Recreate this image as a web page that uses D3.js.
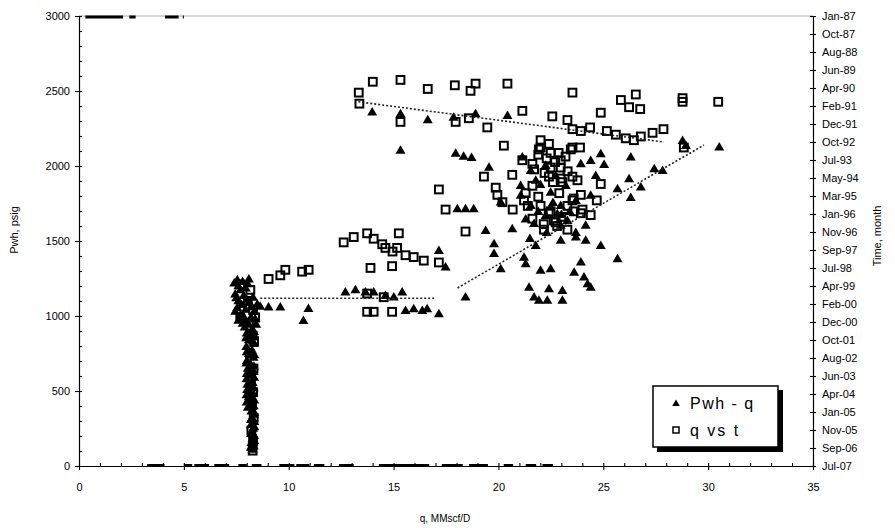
<!DOCTYPE html>
<html><head><meta charset="utf-8">
<script src="https://cdn.jsdelivr.net/npm/d3@7"></script>
<style>
html,body{margin:0;padding:0;background:#fff;}
svg{display:block;font-family:"Liberation Sans",Arial,sans-serif;}
</style></head><body>
<svg id="chart" width="895" height="528"></svg>
<script>
// Wellhead pressure vs rate: [q MMscf/D, Pwh psig]
const pwhQ = [
  [13.98,2362],[15.33,2351],[16.63,2311],[17.86,2327],[18.91,2351],[20.43,2340],[15.33,2107],
  [17.96,2087],[18.34,2067],[18.72,2060],[19.55,1995],[21.14,2062],[18.04,1718],[18.43,1718],
  [18.82,1718],[20.11,1762],[19.39,1573],[20.66,1585],[19.79,1485],[19.79,1420],[20.11,1318],
  [18.43,1129],[21.78,1473],[21.22,1395],[21.30,1351],[22.01,1307],[22.49,1318],[21.46,1195],
  [21.70,1129],[21.93,1107],[22.41,1185],[22.33,1107],[23.05,1173],[23.05,1107],[24.88,1473],
  [25.68,1385],[23.93,1362],[23.61,1295],[24.08,1262],[24.25,1218],[24.40,1195],[22.97,1507],
  [23.69,1529],[24.88,2085],[25.04,2013],[26.31,2062],[24.40,2040],[23.93,2018],[27.43,1985],
  [27.83,1973],[26.23,1918],[26.79,1862],[25.68,1851],[26.31,1793],[28.78,2173],[28.94,2140],
  [30.53,2129],[22.49,1729],[22.81,1685],[23.29,1640],[21.54,1740],[22.25,1673],[22.97,1607],
  [23.69,1560],[24.16,1507],[21.06,1807],[22.25,2007],[22.73,1940],[23.21,1873],[21.78,1907],
  [22.49,1827],[23.69,1773],[24.40,1807],[22.97,1740],[24.16,1607],[21.54,1973],[21.06,1873],
  [24.64,1940],[21.3,1650],[21.9,1700],[22.0,1880],[22.6,1760],[23.4,1700],[21.7,1620],
  [22.3,1560],[23.0,1680],[21.5,1520],
  [12.70,1162],[13.18,1178],[13.66,1162],[14.05,1162],[14.61,1140],[15.01,1129],[15.41,1162],
  [15.57,1040],[15.96,1051],[16.37,1040],[16.60,1051],[17.16,1018],[17.16,1440],[17.48,1329],
  [8.64,1067],[9.04,1062],[9.60,1062],[10.94,1053],[10.70,973],
  [7.55,1245],[7.8,1232],[8.05,1218],[7.6,1205],[7.95,1190],[7.7,1178],[7.4,1222],[8.1,1250],
  [7.45,1150],[7.85,1140],[8.3,1128],[7.6,1105],[8.1,1095],[8.5,1082],[7.55,1060],[7.95,1048],
  [8.35,1035],[7.7,1012],[8.2,995],[7.6,975],[8.05,960],[8.45,948],[7.9,930],[8.25,915],
  [7.5,1125],[8.0,1115],[7.75,1080],[8.25,1065],[7.45,1035],[7.85,1000],[8.4,985],[7.8,955],
  [8.0,890],[8.3,872],[8.1,845],[8.35,820],[7.98,800],[8.25,775],[8.1,752],[8.32,728],[8.0,705],
  [8.2,680],[8.05,655],[8.33,632],[8.12,608],[7.99,585],[8.28,560],[8.15,538],[8.02,512],
  [8.3,490],[8.1,465],[8.35,442],[8.2,418],[8.05,395],
  [8.34,900],[7.97,858],[8.28,836],[8.0,765],[8.36,745],[7.98,690],[8.34,668],[8.0,620],
  [8.35,595],[8.03,548],[8.33,525],[7.99,478],[8.3,455],[8.0,430],[8.33,405],
  [8.22,370],[8.34,348],[8.25,325],[8.36,300],[8.2,278],[8.3,255],[8.24,232],[8.35,208],
  [8.27,185],[8.22,160],[8.33,138],[8.28,115],[8.36,360],[8.2,312],[8.36,265],[8.2,220],
  [8.36,172],[8.2,128]
];

// Rate history: [q MMscf/D, month]
const qVsT = [
  [13.34,"1990-07"],[13.37,"1991-01"],[14.01,"1990-01"],[15.33,"1989-12"],[16.63,"1990-05"],
  [17.92,"1990-03"],[18.91,"1990-02"],[18.67,"1990-06"],[20.43,"1990-02"],[21.14,"1991-05"],
  [15.33,"1991-11"],[17.96,"1991-11"],[18.59,"1991-09"],[19.47,"1992-02"],[20.26,"1992-12"],
  [22.01,"1992-09"],[22.01,"1993-01"],[21.14,"1993-08"],[21.62,"1993-10"],[20.66,"1994-04"],
  [19.31,"1994-05"],[19.87,"1994-11"],[19.95,"1995-03"],[20.19,"1995-07"],[21.30,"1995-02"],
  [21.62,"1994-10"],[17.16,"1994-12"],[17.48,"1995-11"],[18.43,"1996-11"],[12.62,"1997-05"],
  [13.10,"1997-02"],[13.74,"1996-12"],[14.05,"1997-03"],[14.46,"1997-06"],[15.25,"1996-12"],
  [14.61,"1997-08"],[14.95,"1997-10"],[15.17,"1997-08"],[15.57,"1997-12"],[15.96,"1998-01"],
  [16.44,"1998-03"],[13.90,"1998-07"],[14.93,"1998-06"],[17.16,"1998-04"],[13.74,"1999-09"],
  [14.53,"1999-11"],[14.05,"2000-07"],[14.93,"2000-07"],[13.74,"2000-07"],[9.04,"1999-01"],
  [9.60,"1998-11"],[9.84,"1998-08"],[10.64,"1998-09"],[10.95,"1998-08"],
  [23.53,"1990-07"],[25.84,"1990-11"],[26.55,"1990-08"],[26.23,"1991-03"],[26.76,"1991-04"],
  [28.78,"1990-10"],[28.78,"1990-12"],[30.48,"1990-12"],[24.88,"1991-06"],[22.57,"1991-08"],
  [23.29,"1991-10"],[23.53,"1992-03"],[23.93,"1992-04"],[24.37,"1992-02"],[25.17,"1992-04"],
  [25.60,"1992-06"],[26.07,"1992-08"],[26.46,"1992-09"],[26.79,"1992-07"],[27.35,"1992-05"],
  [27.87,"1992-03"],[28.84,"1993-01"],[22.41,"1992-11"],[21.93,"1993-02"],[22.49,"1993-04"],
  [23.45,"1993-02"],[23.89,"1993-01"],[22.97,"1993-08"],[22.97,"1993-12"],[22.41,"1994-05"],
  [23.05,"1994-08"],[23.77,"1994-07"],[24.88,"1994-09"],[23.93,"1995-03"],[23.53,"1995-06"],
  [21.22,"1995-06"],[22.01,"1995-09"],[22.49,"1995-12"],[24.40,"1996-02"],[23.93,"1996-01"],
  [22.17,"1996-10"],[23.29,"1996-10"],[22.73,"1996-06"],[21.62,"1996-04"],[24.69,"1995-06"],
  [20.68,"1995-11"],[22.87,"1993-04"],[23.53,"1993-01"],[22.49,"1993-12"],[22.97,"1994-06"],
  [23.53,"1994-05"],[23.59,"1995-05"],[22.16,"1996-07"],[22.64,"1996-05"],[23.29,"1995-09"],
  [23.59,"1995-12"],[24.01,"1995-11"],
  [21.9,"1993-05"],[22.3,"1993-07"],[22.7,"1993-09"],[23.2,"1993-06"],[21.7,"1994-01"],
  [22.2,"1994-03"],[23.3,"1994-02"],[22.6,"1994-08"],[21.9,"1995-04"],[22.9,"1995-02"],
  [22.4,"1996-01"],[23.0,"1996-03"],[21.4,"1995-09"],[22.8,"1996-08"],
  [7.69,"1999-04"],[8.17,"1999-07"],[8.05,"2000-01"],[8.3,"2000-06"],[7.69,"2000-10"],
  [8.4,"2000-10"],[8.1,"2001-01"],[8.28,"2001-08"],[8.35,"2001-11"],[8.15,"2002-06"],
  [8.32,"2003-02"],[8.2,"2003-08"],[8.3,"2004-03"],[8.25,"2004-10"],[8.33,"2005-05"],
  [8.22,"2005-12"],[8.3,"2006-06"],[8.28,"2006-11"]
];

// Trend lines
const pwhTrendLow = [[8.64,1118],[17.0,1118]];
const pwhTrendHigh = [[18.05,1187],[29.8,2140]];
const qtTrend = [[13.32,"1990-12"],[27.89,"1992-10"]];

// Readings pinned at the axis limits
const capSegments = [[0.3,2.1],[2.4,2.7],[4.1,4.75],[4.95,5.0]];
const zeroDashes = [[3.25,4.08],[5.0,5.4],[5.5,6.2],[6.45,7.16],[7.6,8.0],[8.24,8.7],[9.55,10.27],
  [10.36,10.98],[11.2,11.7],[12.4,13.1],[14.3,16.7],[17.3,18.3],[18.6,19.5],[20.25,20.7],
  [21.3,21.8],[22.1,22.6]];

// Axis ticks
const xTicks = [0,5,10,15,20,25,30,35];
const yTicks = [0,500,1000,1500,2000,2500,3000];
const timeTickLabels = ["Jan-87","Oct-87","Aug-88","Jun-89","Apr-90","Feb-91","Dec-91","Oct-92",
  "Jul-93","May-94","Mar-95","Jan-96","Nov-96","Sep-97","Jul-98","Apr-99","Feb-00","Dec-00",
  "Oct-01","Aug-02","Jun-03","Apr-04","Jan-05","Nov-05","Sep-06","Jul-07"];
const timeStepDays = 300;
const timeStart = new Date(1987,0,1);

const svg = d3.select("#chart");
const L = 79, R = 813, T = 16, B = 466;
const parseMonth = d3.timeParse("%Y-%m");

const x = d3.scaleLinear().domain([0,35]).range([L,R]);
const yL = d3.scaleLinear().domain([0,3000]).range([B,T]);
const timeTickDates = timeTickLabels.map((_,i) => d3.timeDay.offset(timeStart, i*timeStepDays));
const yR = d3.scaleTime().domain([timeStart, timeTickDates[timeTickDates.length-1]]).range([T,B]);

// plot frame top edge
svg.append("line").attr("x1",L).attr("x2",R).attr("y1",T).attr("y2",T)
  .attr("stroke","#aaa").attr("stroke-width",1);

// axes
const fontSize = 11;
svg.append("g").attr("transform",`translate(0,${B})`)
  .call(d3.axisBottom(x).tickValues(xTicks).tickSizeInner(4).tickSizeOuter(0).tickPadding(13)
    .tickFormat(d3.format("d")));
svg.append("g").attr("transform",`translate(0,${B})`)
  .call(d3.axisBottom(x).tickValues(d3.range(0,36,1)).tickSize(-3).tickFormat(""))
  .select(".domain").remove();

svg.append("g").attr("transform",`translate(${L},0)`)
  .call(d3.axisLeft(yL).tickValues(yTicks).tickSizeInner(4).tickSizeOuter(0).tickPadding(5)
    .tickFormat(d3.format("d")));
svg.append("g").attr("transform",`translate(${L},0)`)
  .call(d3.axisLeft(yL).tickValues(d3.range(0,3001,100)).tickSize(-3).tickFormat(""))
  .select(".domain").remove();

svg.append("g").attr("transform",`translate(${R},0)`)
  .call(d3.axisRight(yR).tickValues(timeTickDates).tickSizeInner(3).tickSizeOuter(0).tickPadding(6)
    .tickFormat((d,i) => timeTickLabels[i]));
svg.append("g").attr("transform",`translate(${R},0)`)
  .call(d3.axisRight(yR).tickValues(timeTickDates).tickSize(-3).tickFormat(""))
  .select(".domain").remove();

svg.selectAll(".domain").attr("stroke","#000").attr("stroke-width",1.2);
svg.selectAll(".tick line").attr("stroke","#000").attr("stroke-width",1.1);
svg.selectAll(".tick text").attr("font-size",fontSize).attr("fill","#000")
  .attr("font-family","'Liberation Sans',Arial,sans-serif");

// axis titles
svg.append("text").attr("x",445).attr("y",522).attr("text-anchor","middle")
  .attr("font-size",10).text("q, MMscf/D");
svg.append("text").attr("transform","translate(18,230) rotate(-90)").attr("text-anchor","middle")
  .attr("font-size",11).text("Pwh, psig");
svg.append("text").attr("transform","translate(881,236) rotate(-90)").attr("text-anchor","middle")
  .attr("font-size",11).text("Time, month");

// pinned readings
svg.append("g").selectAll("line").data(capSegments).join("line")
  .attr("x1",d=>x(d[0])).attr("x2",d=>x(d[1])).attr("y1",yL(3000)+1).attr("y2",yL(3000)+1)
  .attr("stroke","#000").attr("stroke-width",3);
svg.append("g").selectAll("line").data(zeroDashes).join("line")
  .attr("x1",d=>x(d[0])).attr("x2",d=>x(d[1])).attr("y1",yL(0)-1).attr("y2",yL(0)-1)
  .attr("stroke","#000").attr("stroke-width",2);

// triangles: Pwh vs q
const tri = "M0,-4.6L5,3.9L-5,3.9Z";
svg.append("g").selectAll("path").data(pwhQ).join("path")
  .attr("d",tri).attr("transform",d=>`translate(${x(d[0])},${yL(d[1])})`)
  .attr("fill","#000");

// squares: q vs time (hollow)
const sq = 7.8;
svg.append("g").selectAll("rect").data(qVsT).join("rect")
  .attr("x",d=>x(d[0])-sq/2).attr("y",d=>yR(parseMonth(d[1]))-sq/2)
  .attr("width",sq).attr("height",sq)
  .attr("fill","none").attr("stroke","#000").attr("stroke-width",2);

// trend lines
const dotted = g => g.attr("fill","none").attr("stroke","#222").attr("stroke-width",1.6)
  .attr("stroke-dasharray","2,2");
svg.append("path").datum(pwhTrendLow)
  .attr("d",d3.line().x(d=>x(d[0])).y(d=>yL(d[1]))).call(dotted);
svg.append("path").datum(pwhTrendHigh)
  .attr("d",d3.line().x(d=>x(d[0])).y(d=>yL(d[1]))).call(dotted);
svg.append("path").datum(qtTrend)
  .attr("d",d3.line().x(d=>x(d[0])).y(d=>yR(parseMonth(d[1])))).call(dotted);

// legend
const lg = svg.append("g").attr("transform","translate(653,386)");
lg.append("rect").attr("x",4).attr("y",4).attr("width",126).attr("height",62).attr("fill","#000");
lg.append("rect").attr("x",0).attr("y",0).attr("width",125).attr("height",61)
  .attr("fill","#fff").attr("stroke","#000").attr("stroke-width",1.5);
lg.append("path").attr("d","M0,-3.4L3.8,3L-3.8,3Z").attr("transform","translate(23,17)").attr("fill","#000");
lg.append("text").attr("x",37).attr("y",23).attr("font-size",16).attr("letter-spacing",1.5).text("Pwh - q");
lg.append("rect").attr("x",20).attr("y",41).attr("width",6).attr("height",6)
  .attr("fill","#fff").attr("stroke","#000").attr("stroke-width",1.5);
lg.append("text").attr("x",37).attr("y",50).attr("font-size",16).attr("letter-spacing",2).text("q vs t");
</script>
</body></html>
